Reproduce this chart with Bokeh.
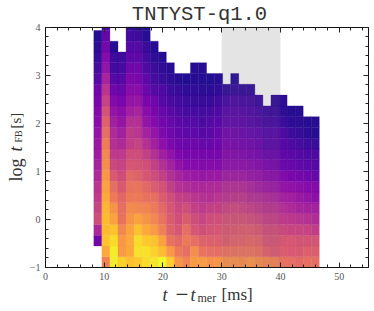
from bokeh.plotting import figure
from bokeh.models import (ColumnDataSource, LinearColorMapper, LinearAxis, FixedTicker,
                          Label, Range1d, BoxAnnotation)
from bokeh.palettes import Plasma256
from bokeh.embed import file_html
from bokeh.resources import INLINE

title_text = "TNTYST-q1.0"
x_ticks = [0, 10, 20, 30, 40, 50]
x_minor = [v * 2 for v in range(0, 28)]
y_ticks = [-1, 0, 1, 2, 3, 4]
y_minor = [-1 + v * 0.2 for v in range(0, 26)]
x_first_edge = 8.23
x_bin = 1.371
y_first_edge = -1.0
y_bin = 0.224
span_start, span_end = 30, 40
x_lo, x_hi, y_lo, y_hi = 0, 55, -1, 4

N = None
r00 = [N,.68,.97,.90,.86,.88,.93,.95,1.0,.89,.74,.69,.76,.76,.73,.74,.72,.72,.71,.73,.71,.69,.68,.63,.62,.60,.62,.62]
r01 = [N,.80,.97,.76,.80,.94,.94,.91,.85,.75,.66,.62,.72,.64,.62,.62,.63,.63,.63,.63,.62,.57,.55,.56,.55,.55,.57,.57]
r02 = [.20,.87,.93,.75,.80,.93,.88,.87,.78,.64,.60,.66,.62,.58,.57,.57,.56,.58,.58,.59,.58,.53,.53,.54,.54,.53,.53,.53]
r03 = [.37,.85,.87,.70,.78,.86,.80,.76,.68,.58,.54,.62,.54,.51,.53,.54,.54,.55,.56,.56,.54,.50,.50,.49,.48,.48,.47,.45]
r04 = [.50,.85,.78,.63,.74,.78,.74,.70,.64,.56,.51,.56,.50,.48,.50,.51,.52,.52,.52,.51,.49,.46,.46,.44,.43,.42,.41,.39]
r05 = [.47,.83,.74,.62,.71,.70,.69,.66,.60,.54,.49,.51,.46,.44,.46,.46,.48,.49,.48,.46,.44,.42,.42,.40,.38,.36,.35,.35]
r06 = [.44,.80,.66,.59,.66,.66,.63,.62,.56,.51,.46,.45,.42,.41,.40,.42,.42,.43,.43,.41,.40,.38,.37,.35,.34,.32,.30,.28]
r07 = [.42,.78,.62,.55,.64,.64,.60,.56,.52,.46,.41,.39,.37,.37,.38,.38,.39,.39,.39,.37,.35,.33,.32,.30,.29,.28,.26,.25]
r08 = [.38,.75,.55,.50,.60,.58,.54,.50,.46,.40,.36,.33,.32,.31,.32,.32,.33,.33,.33,.31,.30,.28,.27,.25,.23,.22,.20,.18]
r09 = [.35,.72,.49,.47,.54,.53,.51,.46,.40,.35,.29,.26,.26,.25,.26,.26,.28,.28,.28,.27,.25,.23,.22,.19,.18,.17,.15,.14]
r10 = [.33,.70,.44,.44,.50,.50,.46,.40,.34,.29,.24,.22,.23,.22,.22,.23,.25,.25,.24,.23,.21,.18,.18,.17,.15,.14,.12,.12]
r11 = [.32,.67,.40,.38,.45,.47,.40,.34,.28,.24,.20,.19,.20,.18,.18,.20,.22,.22,.21,.20,.18,.14,.15,.14,.12,.10,.08,.07]
r12 = [.30,.62,.38,.34,.44,.42,.35,.30,.24,.20,.17,.16,.16,.14,.15,.18,.20,.20,.18,.17,.16,.13,.14,.12,.08,.06,.04,.03]
r13 = [.27,.58,.34,.30,.40,.40,.30,.26,.21,.18,.15,.14,.13,.11,.13,.15,.16,.16,.15,.14,.12,.09,.10,.08,.05,.04,.03,.03]
r14 = [.25,.53,.30,.27,.34,.36,.27,.23,.18,.15,.12,.10,.10,.09,.10,.12,.14,.14,.13,.12,.10,.07,.07,.05,.03,.03,N,N]
r15 = [.23,.47,.25,.23,.30,.31,.23,.20,.14,.11,.09,.08,.07,.06,.07,.09,.10,.11,.10,.09,.06,N,.05,.05,N,N,N,N]
r16 = [.20,.42,.20,.18,.27,.27,.19,.13,.12,.08,.06,.05,.05,.04,.04,.05,.05,.06,.05,.05,N,N,N,N,N,N,N,N]
r17 = [.14,.36,.14,.14,.24,.23,.16,.10,.07,.05,.03,.02,.03,.03,.02,.03,N,.03,N,N,N,N,N,N,N,N,N,N]
r18 = [.10,.30,.09,.10,.20,.20,.12,.07,.05,.03,N,N,.03,.03,N,N,N,N,N,N,N,N,N,N,N,N,N,N]
r19 = [.06,.26,.08,.08,.16,.16,.09,.05,.03,N,N,N,N,N,N,N,N,N,N,N,N,N,N,N,N,N,N,N]
r20 = [.04,.22,.03,N,.13,.13,.07,.03,N,N,N,N,N,N,N,N,N,N,N,N,N,N,N,N,N,N,N,N]
r21 = [.03,.17,N,N,.09,.08,.03,N,N,N,N,N,N,N,N,N,N,N,N,N,N,N,N,N,N,N,N,N]
r22 = [N,.12,N,N,.05,.03,.02,N,N,N,N,N,N,N,N,N,N,N,N,N,N,N,N,N,N,N,N,N]
rows = [r00,r01,r02,r03,r04,r05,r06,r07,r08,r09,r10,r11,r12,r13,r14,r15,r16,r17,r18,r19,r20,r21,r22]

left, right, bottom, top, val = [], [], [], [], []
for i, row in enumerate(rows):
    for j, v in enumerate(row):
        if v is None:
            continue
        left.append(x_first_edge + j * x_bin)
        right.append(x_first_edge + (j + 1) * x_bin)
        bottom.append(y_first_edge + i * y_bin)
        top.append(min(y_first_edge + (i + 1) * y_bin, y_hi))
        val.append(v)
src = ColumnDataSource(dict(left=left, right=right, bottom=bottom, top=top, val=val))

# The frame fills the page so that text can sit anywhere; the axes sit at fixed data locations.
W, H = 374, 311
PX_X, PX_Y = 5.873, 48.1      # pixels per data unit
X0_PX, Y4_PX = 45.0, 26.5     # page position of x=0 and of y=4
p = figure(width=W, height=H, output_backend="svg", toolbar_location=None,
           x_range=Range1d(-X0_PX / PX_X, (W - X0_PX) / PX_X),
           y_range=Range1d(y_hi - (H - Y4_PX) / PX_Y, y_hi + Y4_PX / PX_Y),
           x_axis_type=None, y_axis_type=None,
           frame_width=W, frame_height=H,
           min_border_left=0, min_border_right=0, min_border_top=0, min_border_bottom=0)
p.grid.visible = False
p.outline_line_color = None
p.background_fill_color = "white"
p.border_fill_color = "white"

mapper = LinearColorMapper(palette=Plasma256, low=0, high=1)
p.add_layout(BoxAnnotation(left=span_start, right=span_end, bottom=y_lo, top=y_hi, fill_color="#f0f0f0",
                           fill_alpha=1, line_color=None, level="underlay"))
p.quad(left="left", right="right", bottom="bottom", top="top", source=src,
       fill_color={"field": "val", "transform": mapper}, fill_alpha=0.97,
       line_color={"field": "val", "transform": mapper}, line_alpha=0.6, line_width=0.5)
p.add_layout(BoxAnnotation(left=span_start, right=span_end, bottom=y_lo, top=y_hi, fill_color="#808080",
                           fill_alpha=0.1, line_color=None, level="overlay"))

def axis(tk, mn, loc, bounds, overrides=None, labels=True):
    a = LinearAxis(ticker=FixedTicker(ticks=tk, minor_ticks=mn), fixed_location=loc, bounds=bounds)
    a.axis_line_color = "#111111"
    a.axis_line_width = 1
    a.major_tick_in = 5
    a.major_tick_out = 0
    a.minor_tick_in = 3
    a.minor_tick_out = 0
    a.major_tick_line_color = "#222222"
    a.minor_tick_line_color = "#222222"
    if labels:
        a.major_label_text_font = "Liberation Serif"
        a.major_label_text_font_size = "10px"
        a.major_label_text_color = "#555555"
        a.major_label_standoff = 5
        if overrides:
            a.major_label_overrides = overrides
    else:
        a.major_label_overrides = {t: "" for t in tk}
        a.major_label_standoff = 0
    return a

p.add_layout(axis(x_ticks, x_minor, y_lo, (x_lo, x_hi)), "below")
p.add_layout(axis(y_ticks, y_minor, x_lo, (y_lo, y_hi), {-1: "\u22121"}), "left")
p.add_layout(axis(x_ticks, x_minor, y_hi, (x_lo, x_hi), labels=False), "above")
p.add_layout(axis(y_ticks, y_minor, x_hi, (y_lo, y_hi), labels=False), "right")

SERIF = "Liberation Serif"
def lab(x_px, y_px, text, size, style="normal", font=SERIF, angle=0, align="left", color="#333333"):
    p.add_layout(Label(x=x_px, y=H - y_px, x_units="screen", y_units="screen", text=text, text_font=font,
                       text_font_size=f"{size}px", text_font_style=style, angle=angle,
                       angle_units="deg", text_align=align, text_baseline="alphabetic",
                       text_color=color))

lab(199, 14, title_text, 20.5, font="Liberation Mono", align="center")

# x label pieces
ly = 294
lab(162, ly, "t", 18, "italic")
lab(175, ly, "\u2212", 23)
lab(190, ly, "t", 18, "italic")
lab(197, ly + 3, "mer", 12)
lab(221, ly, "[ms]", 17)

# y label pieces
lx = 15
lab(lx, 181, "log", 18, angle=90)
lab(lx, 151, "t", 18, "italic", angle=90)
lab(lx + 3, 142, "FB", 10, angle=90)
lab(lx, 128, "[s]", 15, angle=90)

open("out.html", "w").write(file_html(p, INLINE))
